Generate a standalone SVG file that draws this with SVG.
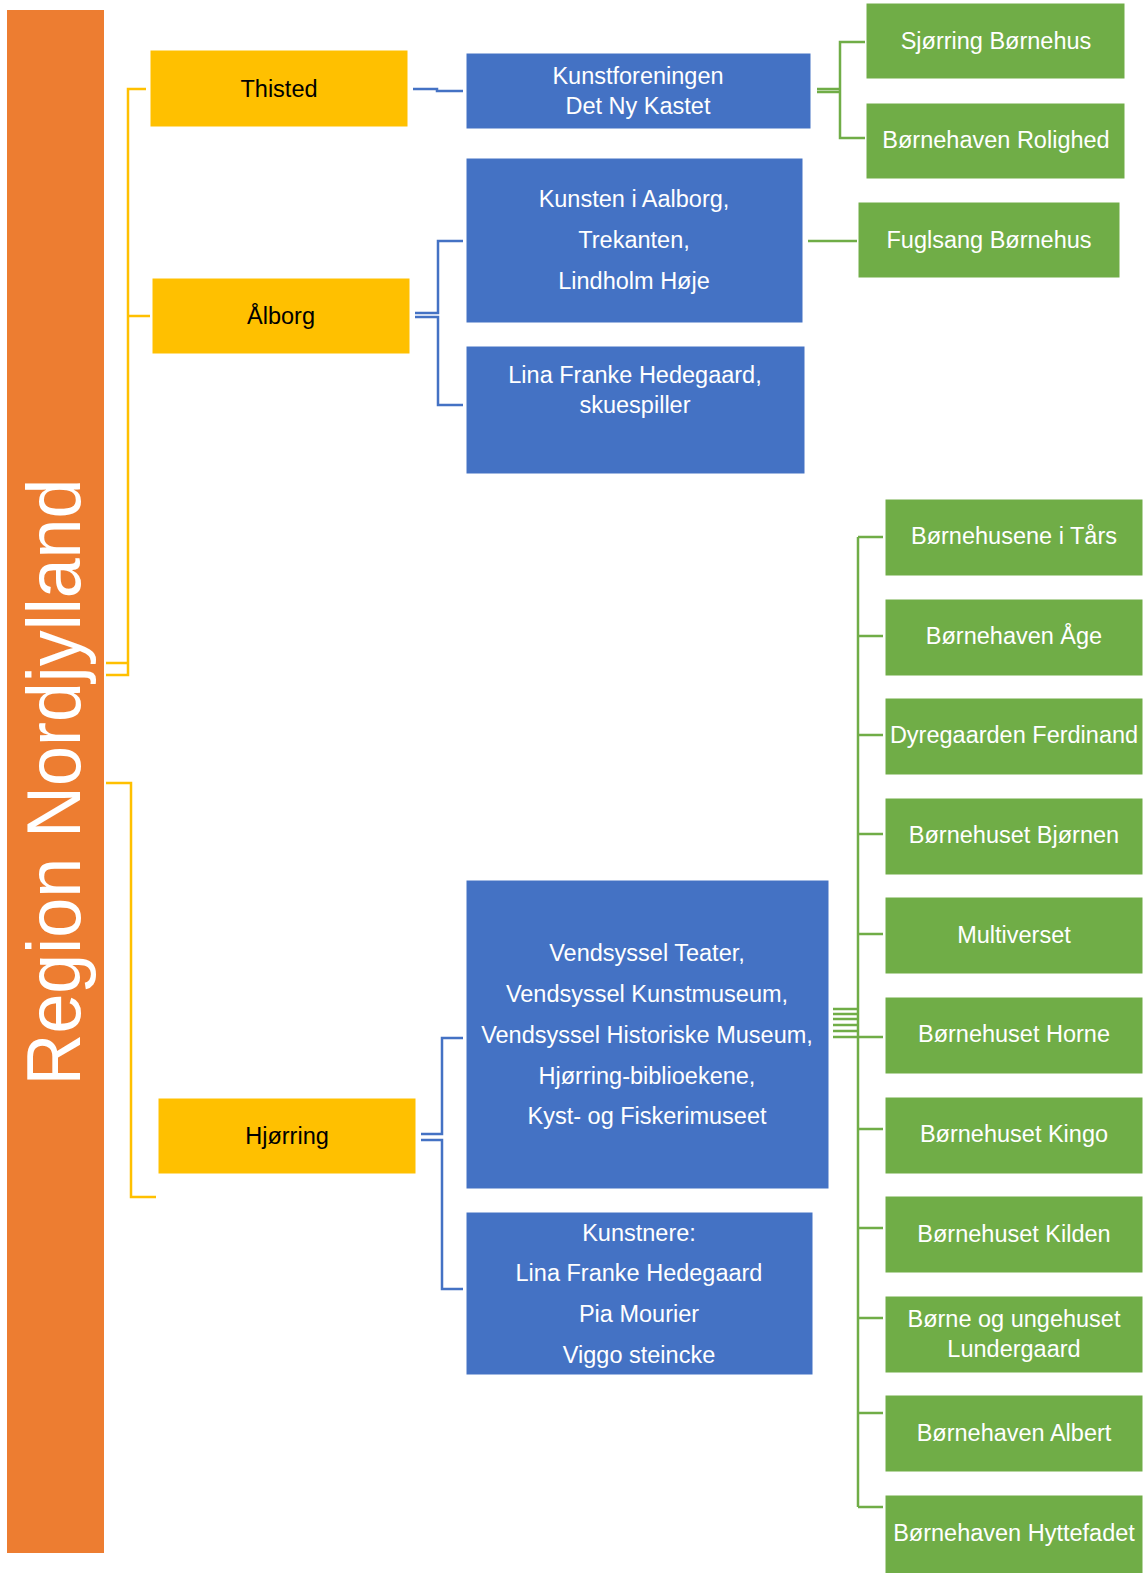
<svg xmlns="http://www.w3.org/2000/svg" width="1147" height="1573" viewBox="0 0 1147 1573">
<style>
text{font-family:"Liberation Sans",Arial,sans-serif;font-size:23.5px;text-anchor:middle}
.w{fill:#fff}
.k{fill:#000}
.or{fill:#ED7D31}
.ye{fill:#FFC000;stroke:#fff;stroke-width:1}
.bl{fill:#4472C4;stroke:#fff;stroke-width:1}
.gr{fill:#70AD47;stroke:#fff;stroke-width:1}
.cy{fill:none;stroke:#FFC000;stroke-width:2.5}
.cb{fill:none;stroke:#4472C4;stroke-width:2.5}
.cg{fill:none;stroke:#70AD47;stroke-width:2.5}
</style>
<rect width="1147" height="1573" fill="#fff"/>
<g id="connectors">
<path class="cy" d="M146,89 H128 V675 H106 M128,316 H150 M106,663 H128"/>
<path class="cy" d="M106,783 H131 V1197 H156"/>
<path class="cb" d="M413,89 H437 V91 H463"/>
<path class="cb" d="M415,313 H438 V241 H463 M415,317 H438 V405 H463"/>
<path class="cb" d="M421,1134 H442 V1038 H463 M421,1140 H442 V1289 H463"/>
<path class="cg" d="M817,89 H840 M817,92 H840 M865,42 H840 V138 H865"/>
<path class="cg" d="M808,241 H857"/>
<path class="cg" d="M858,537 V1507 M858,537 H883 M858,636 H883 M858,735 H883 M858,834 H883 M858,934 H883 M858,1037 H883 M858,1129 H883 M858,1228 H883 M858,1318 H883 M858,1413 H883 M858,1507 H883"/>
<path class="cg" d="M833,1009 H857 M833,1014 H857 M833,1019 H857 M833,1025 H857 M833,1031 H857 M833,1037 H858"/>
</g>
<g id="region">
<rect class="or" x="7" y="10" width="97" height="1543"/>
<text class="w" transform="translate(80,782) rotate(-90)" style="font-size:76px" textLength="607" lengthAdjust="spacingAndGlyphs">Region Nordjylland</text>
</g>
<g id="thisted"><rect class="ye" x="150" y="50" width="258" height="77"/><text class="k" x="279" y="97">Thisted</text></g>
<g id="alborg"><rect class="ye" x="152" y="278" width="258" height="76"/><text class="k" x="281" y="324">Ålborg</text></g>
<g id="hjorring"><rect class="ye" x="158" y="1098" width="258" height="76"/><text class="k" x="287" y="1144">Hjørring</text></g>
<g id="kunstforeningen"><rect class="bl" x="466" y="53" width="345" height="76"/><text class="w" x="638" y="84">Kunstforeningen</text><text class="w" x="638" y="114">Det Ny Kastet</text></g>
<g id="kunsten"><rect class="bl" x="466" y="158" width="337" height="165"/><text class="w" x="634" y="207">Kunsten i Aalborg,</text><text class="w" x="634" y="248">Trekanten,</text><text class="w" x="634" y="289">Lindholm Høje</text></g>
<g id="lina"><rect class="bl" x="466" y="346" width="339" height="128"/><text class="w" x="635" y="383">Lina Franke Hedegaard,</text><text class="w" x="635" y="413">skuespiller</text></g>
<g id="vendsyssel"><rect class="bl" x="466" y="880" width="363" height="309"/><text class="w" x="647" y="961">Vendsyssel Teater,</text><text class="w" x="647" y="1002">Vendsyssel Kunstmuseum,</text><text class="w" x="647" y="1043">Vendsyssel Historiske Museum,</text><text class="w" x="647" y="1084">Hjørring-biblioekene,</text><text class="w" x="647" y="1124">Kyst- og Fiskerimuseet</text></g>
<g id="kunstnere"><rect class="bl" x="466" y="1212" width="347" height="163"/><text class="w" x="639" y="1241">Kunstnere:</text><text class="w" x="639" y="1281">Lina Franke Hedegaard</text><text class="w" x="639" y="1322">Pia Mourier</text><text class="w" x="639" y="1363">Viggo steincke</text></g>
<g id="sjorring"><rect class="gr" x="866" y="3" width="259" height="76"/><text class="w" x="996" y="49">Sjørring Børnehus</text></g>
<g id="rolighed"><rect class="gr" x="866" y="103" width="259" height="76"/><text class="w" x="996" y="148">Børnehaven Rolighed</text></g>
<g id="fuglsang"><rect class="gr" x="858" y="202" width="262" height="76"/><text class="w" x="989" y="248">Fuglsang Børnehus</text></g>
<g id="tars"><rect class="gr" x="885" y="499" width="258" height="77"/><text class="w" x="1014" y="544">Børnehusene i Tårs</text></g>
<g id="age"><rect class="gr" x="885" y="599" width="258" height="77"/><text class="w" x="1014" y="644">Børnehaven Åge</text></g>
<g id="ferdinand"><rect class="gr" x="885" y="698" width="258" height="77"/><text class="w" x="1014" y="743">Dyregaarden Ferdinand</text></g>
<g id="bjornen"><rect class="gr" x="885" y="798" width="258" height="77"/><text class="w" x="1014" y="843">Børnehuset Bjørnen</text></g>
<g id="multiverset"><rect class="gr" x="885" y="897" width="258" height="77"/><text class="w" x="1014" y="943">Multiverset</text></g>
<g id="horne"><rect class="gr" x="885" y="997" width="258" height="77"/><text class="w" x="1014" y="1042">Børnehuset Horne</text></g>
<g id="kingo"><rect class="gr" x="885" y="1097" width="258" height="77"/><text class="w" x="1014" y="1142">Børnehuset Kingo</text></g>
<g id="kilden"><rect class="gr" x="885" y="1196" width="258" height="77"/><text class="w" x="1014" y="1242">Børnehuset Kilden</text></g>
<g id="lundergaard"><rect class="gr" x="885" y="1296" width="258" height="77"/><text class="w" x="1014" y="1327">Børne og ungehuset</text><text class="w" x="1014" y="1357">Lundergaard</text></g>
<g id="albert"><rect class="gr" x="885" y="1395" width="258" height="77"/><text class="w" x="1014" y="1441">Børnehaven Albert</text></g>
<g id="hyttefadet"><rect class="gr" x="885" y="1495" width="258" height="80"/><text class="w" x="1014" y="1541">Børnehaven Hyttefadet</text></g>
</svg>
